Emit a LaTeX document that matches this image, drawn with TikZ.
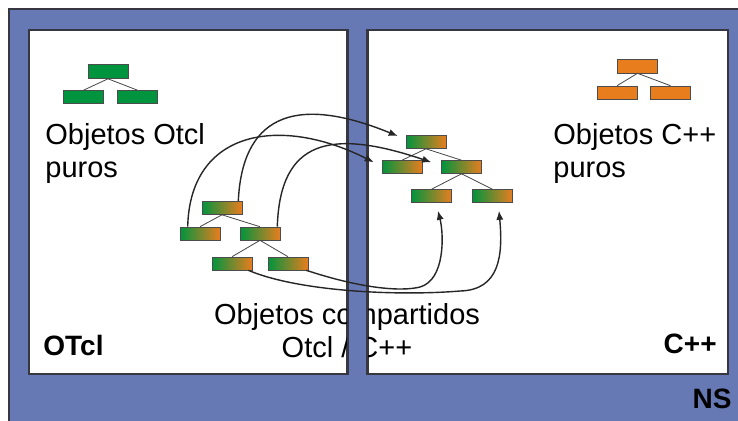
\documentclass[tikz,border=0pt]{standalone}
\usepackage{fontspec}
\setmainfont{Liberation Sans}
\usetikzlibrary{arrows.meta}

\definecolor{nsblue}{RGB}{102,121,181}
\definecolor{frame}{RGB}{55,55,65}
\definecolor{otclgreen}{RGB}{0,148,62}
\definecolor{cppor}{RGB}{232,125,30}

\begin{document}
\begin{tikzpicture}[x=0.5pt, y=-0.5pt,
    every node/.style={font=\fontsize{14.5}{16.5}\selectfont},
    panel/.style={draw=frame, line width=0.8pt, fill=white, minimum width=#1, minimum height=172pt, inner sep=0},
    obj/.style={draw=gray!60!black, line width=0.3pt, minimum width=20pt, minimum height=6.5pt, inner sep=0},
    tclobj/.style={obj, fill=otclgreen},
    cppobj/.style={obj, fill=cppor},
    shared/.style={obj, left color=otclgreen, right color=cppor},
    branch/.style={draw=gray!55!black, line width=0.4pt},
    bind/.style={-{Latex[length=4.5pt,width=3.6pt]}, line width=0.7pt, black!85},
    tag/.style={font=\fontsize{14}{16}\selectfont\bfseries, inner sep=0}
]
\useasboundingbox (0,0) rectangle (738,420);
\clip (0,0) rectangle (738,420);
\fill[white] (0,0) rectangle (738,420);
\draw[frame, fill=nsblue, line width=0.8pt] (9,9) rectangle (760,440);

% the two worlds
\node[panel=159pt] (otcl) at (188,202) {};
\node[panel=180pt] (cpp) at (548,202) {};

% pure OTcl objects
\node[tclobj, minimum height=7pt] (gtop) at (108,71.5) {};
\node[tclobj] (gleft) at (83.5,97) {};
\node[tclobj] (gright) at (137.5,97) {};
\draw[branch] (gtop.south) -- (gleft.north);
\draw[branch] (gtop.south) -- (gright.north);
\node[anchor=base west, align=left, inner sep=0] (puretcl) at (45,177) {Objetos Otcl\\puros};

% pure C++ objects
\node[cppobj, minimum height=7pt] (otop) at (637.5,66) {};
\node[cppobj] (oleft) at (617,92.5) {};
\node[cppobj] (oright) at (670.5,92.5) {};
\draw[branch] (otop.south) -- (oleft.north);
\draw[branch] (otop.south) -- (oright.north);
\node[anchor=base west, align=left, inner sep=0] (purecpp) at (553,177) {Objetos C++\\puros};

% shared objects, OTcl side
\node[shared] (ltop) at (222,208) {};
\node[shared] (lml) at (200,233.5) {};
\node[shared] (lmr) at (260,233.5) {};
\node[shared] (lbl) at (232,263.5) {};
\node[shared] (lbr) at (288,263.5) {};
\draw[branch] (ltop.south) -- (lml.north);
\draw[branch] (ltop.south) -- (lmr.north);
\draw[branch] (lmr.south) -- (lbl.north);
\draw[branch] (lmr.south) -- (lbr.north);

% shared objects, C++ side
\node[shared] (rtop) at (426,142) {};
\node[shared] (rml) at (402,167) {};
\node[shared] (rmr) at (461.5,167) {};
\node[shared] (rbl) at (431.5,196) {};
\node[shared] (rbr) at (492.5,196) {};
\draw[branch] (rtop.south) -- (rml.north);
\draw[branch] (rtop.south) -- (rmr.north);
\draw[branch] (rmr.south) -- (rbl.north);
\draw[branch] (rmr.south) -- (rbr.north);

\node[anchor=base, align=center, inner sep=0] (sharedtxt) at (347,357) {Objetos compartidos\\Otcl / C++};

% gap between the panels
\fill[nsblue] (otcl.north east) rectangle (cpp.south west);
\draw[frame, line width=0.8pt] (otcl.north east) -- (otcl.south east) (cpp.north west) -- (cpp.south west);

% bindings
\draw[bind] ([xshift=-2pt]ltop.north east) .. controls (242,120) and (290,92) .. ([xshift=-4pt,yshift=3pt]rtop.west);
\draw[bind] ([xshift=4pt]lml.north west) .. controls (190,130) and (280,115) .. ([xshift=-4pt,yshift=-1pt]rml.north west);
\draw[bind] ([xshift=-1.5pt]lmr.north east) .. controls (280,140) and (330,128) .. ([xshift=-5pt,yshift=-1pt]rmr.north west);
\draw[bind] ([xshift=-1pt]lbr.south east) .. controls (360,288) and (400,292) .. (420,287) .. controls (445,280) and (444,235) .. ([xshift=3.25pt,yshift=-4pt]rbl.south);
\draw[bind] ([xshift=-2pt]lbl.south east) .. controls (300,292) and (400,296) .. (460,291) .. controls (500,290) and (503,255) .. ([xshift=3.25pt,yshift=-4pt]rbr.south);

\node[tag, anchor=base west] (otcltag) at (43,355) {OTcl};
\node[tag, anchor=base east] (cpptag) at (717,353) {C++};
\node[tag, anchor=base east] (nstag) at (732,408) {NS};
\end{tikzpicture}
\end{document}
